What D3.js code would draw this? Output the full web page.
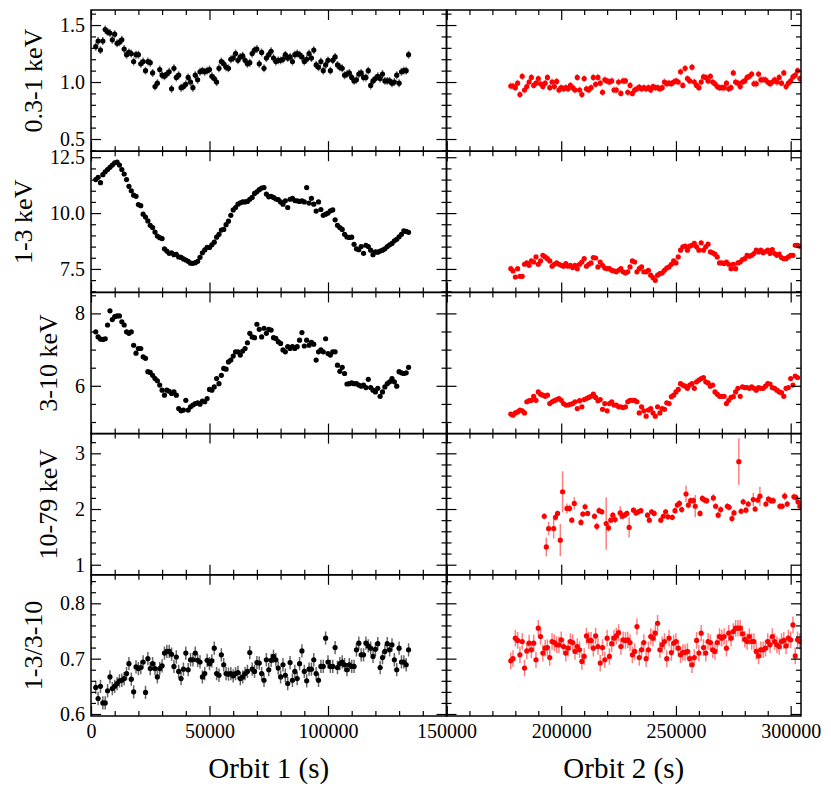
<!DOCTYPE html>
<html>
<head>
<meta charset="utf-8">
<script src="https://cdn.jsdelivr.net/npm/d3@7"></script>
<style>
  body { margin: 0; background: #fff; }
  svg text { font-family: "Liberation Serif", "DejaVu Serif", serif; fill: #000; }
</style>
</head>
<body>
<svg id="chart" width="831" height="796"></svg>
<script>
// Time binning of the XMM light curves (s)
const binWidth = 1000
const orbit1Start = 2000
const orbit2Start = 178000

const bandLabels = ['0.3-1 keV', '1-3 keV', '3-10 keV', '10-79 keV', '1-3/3-10']
const orbitLabels = ['Orbit 1 (s)', 'Orbit 2 (s)']
const orbitDomains = [[0, 150000], [150000, 304500]]
const xTicks = [[0, 50000, 100000, 150000], [150000, 200000, 250000, 300000]]

const yDomains = [[0.393, 1.632], [6.45, 12.77], [4.68, 8.58], [0.819, 3.354], [0.5964, 0.8515]]
const yMajor = [[0.5, 1.0, 1.5], [7.5, 10.0, 12.5], [6, 8], [1, 2, 3], [0.6, 0.7, 0.8]]
const yMinorStep = [0.1, 0.5, 0.5, 0.2, 0.02]
const yDecimals = [1, 1, 0, 0, 1]

// 0.3-1 keV
const soft1 = [
  1.31, 1.36, 1.28, 1.36, 1.46, 1.44, 1.43, 1.37, 1.42, 1.34,
  1.35, 1.37, 1.29, 1.24, 1.26, 1.25, 1.18, 1.24, 1.24, 1.16,
  1.18, 1.10, 1.18, 1.17, 1.08, 0.96, 0.99, 1.11, 1.06, 1.05,
  1.07, 1.09, 0.94, 1.12, 1.04, 1.06, 0.95, 0.96, 0.98, 1.04,
  1.00, 0.95, 1.06, 1.02, 1.09, 1.10, 1.09, 1.10, 1.11, 1.05,
  1.03, 1.00, 1.12, 1.18, 1.16, 1.13, 1.12, 1.20, 1.21, 1.25,
  1.19, 1.22, 1.23, 1.19, 1.16, 1.17, 1.25, 1.28, 1.29, 1.16,
  1.26, 1.12, 1.21, 1.24, 1.27, 1.21, 1.18, 1.19, 1.19, 1.20,
  1.24, 1.21, 1.22, 1.18, 1.24, 1.25, 1.24, 1.22, 1.18, 1.20,
  1.25, 1.21, 1.28, 1.15, 1.13, 1.18, 1.10, 1.15, 1.19, 1.10,
  1.19, 1.22, 1.15, 1.13, 1.12, 1.06, 1.07, 1.08, 1.04, 1.01,
  1.02, 1.07, 1.08, 1.04, 1.04, 1.10, 0.97, 1.01, 1.03, 1.05,
  1.03, 1.07, 1.01, 1.01, 1.01, 0.99, 1.00, 1.06, 0.99, 1.09,
  1.10, 1.10, 1.24
]
const soft2 = [
  0.965, 0.965, 0.95, 0.99, 0.89, 1.05, 0.93, 0.96, 1.00, 1.04,
  0.97, 0.99, 1.03, 0.985, 0.96, 0.99, 1.04, 0.95, 1.00, 0.96,
  1.005, 0.93, 0.95, 0.94, 0.95, 0.94, 0.97, 0.95, 0.93, 1.04,
  0.93, 0.89, 1.03, 0.94, 0.93, 0.95, 1.04, 0.98, 1.04, 0.99,
  0.91, 1.02, 1.01, 1.00, 1.01, 0.93, 0.93, 1.00, 0.90, 1.01,
  1.01, 0.91, 0.97, 0.90, 0.93, 0.94, 0.955, 0.94, 0.95, 0.94,
  0.95, 0.93, 0.96, 0.95, 0.95, 0.94, 0.95, 1.00, 0.985, 0.99,
  0.985, 1.00, 1.01, 1.00, 1.09, 0.97, 1.12, 1.03, 1.01, 1.13,
  1.00, 0.97, 0.95, 1.00, 1.045, 1.04, 1.01, 1.05, 1.00, 0.985,
  0.96, 0.95, 0.95, 0.95, 0.99, 0.94, 0.95, 1.08, 1.00, 0.99,
  0.96, 1.00, 1.01, 1.04, 1.05, 1.07, 0.985, 0.985, 1.07, 1.02,
  1.02, 1.02, 1.00, 0.985, 1.00, 1.02, 1.00, 1.04, 0.99, 1.08,
  0.96, 0.99, 1.01, 1.045, 1.06, 1.10, 1.03
]

// 1-3 keV
const medium1 = [
  11.50, 11.60, 11.36, 11.72, 11.85, 11.95, 12.05, 12.15, 12.25, 12.28,
  12.15, 11.95, 11.75, 11.50, 11.20, 11.00, 10.80, 10.75, 10.38, 10.33,
  9.95, 9.82, 9.65, 9.45, 9.35, 9.15, 8.97, 8.90, 8.86, 8.40,
  8.30, 8.20, 8.22, 8.14, 8.15, 8.04, 8.02, 7.95, 7.90, 7.84,
  7.76, 7.75, 7.78, 7.84, 8.02, 8.22, 8.35, 8.47, 8.46, 8.58,
  8.70, 8.92, 9.05, 9.24, 9.27, 9.48, 9.64, 9.90, 10.14, 10.25,
  10.40, 10.46, 10.50, 10.50, 10.52, 10.62, 10.70, 10.88, 10.95, 11.05,
  11.12, 11.14, 10.85, 10.73, 10.75, 10.70, 10.63, 10.60, 10.50, 10.40,
  10.55, 10.25, 10.62, 10.66, 10.56, 10.55, 10.52, 10.55, 10.50, 11.14,
  10.45, 10.66, 10.40, 10.09, 10.50, 10.16, 9.90, 9.95, 10.00, 10.10,
  10.14, 9.70, 9.45, 9.35, 9.27, 9.05, 8.93, 8.91, 8.92, 8.60,
  8.40, 8.36, 8.50, 8.20, 8.56, 8.50, 8.34, 8.14, 8.26, 8.25,
  8.30, 8.34, 8.40, 8.50, 8.58, 8.64, 8.76, 8.83, 8.94, 9.05,
  9.20, 9.18, 9.14
]
const medium2 = [
  7.51, 7.41, 7.14, 7.51, 7.17, 7.17, 7.71, 7.77, 7.66, 7.86,
  7.81, 8.04, 7.71, 7.86, 8.11, 8.04, 7.96, 7.86, 7.62, 7.71,
  7.77, 7.71, 7.66, 7.62, 7.74, 7.62, 7.66, 7.56, 7.66, 7.51,
  7.71, 7.81, 7.96, 7.62, 7.71, 7.77, 8.01, 7.99, 7.59, 7.81,
  7.66, 7.54, 7.51, 7.51, 7.44, 7.41, 7.37, 7.44, 7.51, 7.37,
  7.32, 7.37, 7.59, 7.86, 7.81, 7.37, 7.51, 7.59, 7.37, 7.37,
  7.44, 7.22, 7.11, 6.99, 7.22, 7.29, 7.32, 7.44, 7.54, 7.59,
  7.71, 7.86, 7.77, 8.04, 8.34, 8.49, 8.52, 8.34, 8.52, 8.56,
  8.64, 8.49, 8.34, 8.67, 8.34, 8.49, 8.61, 8.26, 8.22, 8.16,
  8.04, 7.77, 7.77, 7.74, 7.81, 7.71, 7.51, 7.71, 7.51, 7.77,
  7.81, 7.92, 7.96, 8.11, 8.07, 8.11, 8.19, 8.34, 8.26, 8.34,
  8.22, 8.28, 8.34, 8.19, 8.37, 8.19, 8.11, 8.16, 8.01, 7.96,
  7.96, 8.04, 8.11, 8.11, 8.56, 8.56, 8.52
]

// 3-10 keV
const hard1 = [
  7.49, 7.35, 7.29, 7.28, 7.30, 7.68, 8.07, 7.83, 7.91, 7.93,
  7.93, 7.77, 7.68, 7.49, 7.45, 7.49, 7.12, 6.90, 7.03, 7.03,
  6.80, 6.76, 6.39, 6.37, 6.29, 6.20, 6.14, 6.02, 5.88, 5.74,
  5.88, 5.85, 5.79, 5.83, 5.74, 5.37, 5.31, 5.33, 5.60, 5.33,
  5.42, 5.47, 5.51, 5.53, 5.49, 5.58, 5.56, 5.65, 5.90, 5.88,
  5.97, 6.20, 6.06, 6.29, 6.48, 6.46, 6.66, 6.71, 6.82, 6.94,
  6.94, 6.85, 6.96, 7.03, 7.19, 7.45, 7.35, 7.33, 7.70, 7.56,
  7.35, 7.59, 7.45, 7.56, 7.54, 7.33, 7.31, 7.22, 7.17, 6.99,
  6.94, 7.08, 7.03, 7.08, 7.03, 7.08, 7.26, 7.47, 7.10, 7.26,
  7.12, 7.20, 7.15, 6.71, 6.94, 6.99, 6.94, 7.30, 6.89, 6.85,
  6.94, 6.94, 6.57, 6.40, 6.51, 6.34, 6.05, 6.06, 6.08, 6.06,
  6.06, 6.02, 5.99, 6.02, 5.95, 6.18, 5.95, 5.88, 5.83, 5.93,
  5.71, 5.83, 5.97, 6.06, 6.11, 6.20, 6.11, 5.99, 6.39, 6.36,
  6.34, 6.36, 6.51
]
const hard2 = [
  5.22, 5.19, 5.25, 5.28, 5.33, 5.31, 5.25, 5.56, 5.59, 5.60,
  5.71, 5.60, 5.83, 5.77, 5.74, 5.71, 5.74, 5.51, 5.56, 5.59,
  5.62, 5.65, 5.60, 5.51, 5.47, 5.47, 5.49, 5.51, 5.56, 5.37,
  5.59, 5.42, 5.62, 5.65, 5.68, 5.71, 5.77, 5.68, 5.59, 5.62,
  5.35, 5.51, 5.31, 5.51, 5.56, 5.47, 5.47, 5.42, 5.42, 5.40,
  5.42, 5.56, 5.60, 5.60, 5.60, 5.56, 5.25, 5.42, 5.31, 5.16,
  5.33, 5.37, 5.25, 5.16, 5.42, 5.25, 5.37, 5.35, 5.53, 5.51,
  5.70, 5.74, 5.83, 5.90, 6.06, 6.02, 5.99, 5.93, 6.02, 6.06,
  5.93, 6.11, 6.16, 6.20, 6.23, 6.11, 6.08, 5.99, 6.02, 5.83,
  5.77, 5.71, 5.71, 5.71, 5.51, 5.60, 5.68, 5.70, 5.83, 5.93,
  5.71, 5.97, 5.95, 5.95, 5.93, 5.97, 5.93, 5.88, 5.95, 5.93,
  5.93, 5.99, 6.06, 6.05, 5.95, 5.93, 5.88, 5.83, 5.81, 5.71,
  5.93, 5.95, 6.20, 6.02, 6.27, 6.23
]

// 10-79 keV (NuSTAR, orbit 2 only, irregular times)
const nuTimes = [
  192600, 193500, 194500, 196700, 197500, 198400, 199600, 200600, 202500, 203600,
  204600, 205700, 208600, 209400, 210400, 211500, 214500, 215500, 216500, 217700,
  219600, 220600, 221600, 222500, 223500, 225700, 226700, 227600, 228600, 229600,
  231500, 232600, 233600, 234700, 237600, 238400, 239400, 240500, 243400, 244500,
  245500, 246500, 248400, 249600, 250600, 251500, 252500, 254400, 255400, 256400,
  257600, 258400, 260500, 261500, 262500, 263400, 266300, 267300, 268400, 269500,
  272400, 273200, 274400, 275300, 277400, 278400, 279300, 280500, 281500, 283700,
  284500, 285600, 286600, 289200, 290300, 291400, 292400, 295300, 296300, 297400,
  298500, 301400, 302200, 303200, 304000
]
const nuRate = [
  1.87, 1.32, 1.65, 1.65, 1.85, 1.92, 1.44, 2.31, 2.01, 2.01,
  1.80, 2.10, 1.76, 1.91, 2.04, 1.92, 1.87, 1.69, 1.97, 1.95,
  1.74, 1.66, 1.80, 1.89, 1.81, 1.93, 1.87, 1.89, 1.92, 1.67,
  1.98, 1.93, 1.95, 1.97, 1.89, 1.80, 1.95, 1.92, 1.80, 1.87,
  1.95, 1.86, 1.85, 1.97, 2.07, 2.10, 1.99, 2.27, 2.07, 2.15,
  2.15, 2.05, 1.92, 2.19, 2.16, 2.15, 2.20, 2.05, 1.89, 1.99,
  2.05, 2.03, 1.83, 1.93, 2.85, 1.96, 2.13, 1.98, 2.09, 2.17,
  2.00, 2.16, 2.23, 2.09, 2.18, 2.15, 2.15, 2.05, 2.05, 2.23,
  2.09, 2.22, 2.21, 2.13, 2.05
]
const nuErr = [
  0.06, 0.17, 0.12, 0.18, 0.06, 0.05, 0.29, 0.37, 0.09, 0.07,
  0.05, 0.11, 0.06, 0.05, 0.06, 0.05, 0.06, 0.07, 0.06, 0.05,
  0.47, 0.07, 0.05, 0.06, 0.06, 0.12, 0.06, 0.05, 0.05, 0.18,
  0.05, 0.05, 0.05, 0.05, 0.05, 0.05, 0.05, 0.05, 0.05, 0.05,
  0.05, 0.05, 0.05, 0.06, 0.06, 0.06, 0.06, 0.15, 0.06, 0.06,
  0.06, 0.20, 0.06, 0.06, 0.06, 0.06, 0.07, 0.06, 0.06, 0.06,
  0.06, 0.06, 0.07, 0.06, 0.42, 0.06, 0.06, 0.06, 0.06, 0.12,
  0.06, 0.06, 0.17, 0.06, 0.06, 0.06, 0.06, 0.06, 0.06, 0.07,
  0.06, 0.06, 0.06, 0.06, 0.06
]

// hardness ratio 1-3 / 3-10
const ratio1 = [
  0.648, 0.628, 0.650, 0.620, 0.620, 0.642, 0.667, 0.646, 0.650, 0.655,
  0.660, 0.661, 0.664, 0.673, 0.691, 0.663, 0.640, 0.685, 0.682, 0.684,
  0.694, 0.639, 0.700, 0.682, 0.691, 0.682, 0.667, 0.682, 0.687, 0.710,
  0.713, 0.713, 0.708, 0.686, 0.703, 0.677, 0.664, 0.681, 0.710, 0.680,
  0.698, 0.698, 0.710, 0.697, 0.694, 0.667, 0.673, 0.697, 0.691, 0.696,
  0.719, 0.673, 0.670, 0.707, 0.689, 0.673, 0.672, 0.673, 0.669, 0.673,
  0.675, 0.664, 0.667, 0.673, 0.677, 0.711, 0.681, 0.677, 0.693, 0.692,
  0.673, 0.661, 0.698, 0.680, 0.697, 0.704, 0.698, 0.683, 0.667, 0.689,
  0.670, 0.655, 0.693, 0.661, 0.677, 0.664, 0.691, 0.714, 0.677, 0.660,
  0.681, 0.681, 0.698, 0.673, 0.661, 0.686, 0.686, 0.737, 0.694, 0.686,
  0.686, 0.720, 0.684, 0.691, 0.694, 0.689, 0.680, 0.689, 0.686, 0.686,
  0.716, 0.728, 0.707, 0.707, 0.728, 0.723, 0.719, 0.704, 0.717, 0.727,
  0.684, 0.702, 0.713, 0.727, 0.716, 0.725, 0.698, 0.680, 0.719, 0.694,
  0.694, 0.689, 0.716
]
const ratio2 = [
  0.696, 0.700, 0.737, 0.733, 0.707, 0.731, 0.683, 0.714, 0.728, 0.716,
  0.728, 0.698, 0.755, 0.740, 0.710, 0.719, 0.720, 0.702, 0.731, 0.729,
  0.725, 0.725, 0.734, 0.722, 0.710, 0.719, 0.731, 0.729, 0.713, 0.722,
  0.716, 0.695, 0.704, 0.741, 0.733, 0.733, 0.719, 0.741, 0.722, 0.692,
  0.720, 0.698, 0.737, 0.704, 0.727, 0.737, 0.741, 0.747, 0.722, 0.734,
  0.733, 0.734, 0.729, 0.707, 0.713, 0.758, 0.702, 0.716, 0.729, 0.700,
  0.716, 0.740, 0.737, 0.746, 0.764, 0.716, 0.725, 0.731, 0.700, 0.737,
  0.711, 0.728, 0.731, 0.719, 0.707, 0.711, 0.711, 0.713, 0.700, 0.689,
  0.702, 0.733, 0.710, 0.746, 0.720, 0.710, 0.731, 0.729, 0.716, 0.713,
  0.729, 0.740, 0.737, 0.740, 0.719, 0.746, 0.737, 0.749, 0.755, 0.755,
  0.755, 0.745, 0.735, 0.731, 0.740, 0.731, 0.731, 0.713, 0.705, 0.716,
  0.716, 0.719, 0.731, 0.725, 0.740, 0.731, 0.725, 0.722, 0.731, 0.733,
  0.723, 0.737, 0.734, 0.761, 0.705, 0.734, 0.731
]

// typical 1-sigma errors per band [orbit 1, orbit 2]
const softErr = [0.035, 0.03]
const mediumErr = [0.04, 0.04]
const hardErr = [0.05, 0.05]
const ratioErr = [0.012, 0.015]

const binned = (values, start, err) =>
  values.map((v, i) => ({ t: start + i * binWidth, v, e: err }))

const panels = [
  [binned(soft1, orbit1Start, softErr[0]), binned(soft2, orbit2Start, softErr[1])],
  [binned(medium1, orbit1Start, mediumErr[0]), binned(medium2, orbit2Start, mediumErr[1])],
  [binned(hard1, orbit1Start, hardErr[0]), binned(hard2, orbit2Start, hardErr[1])],
  [[], nuTimes.map((t, i) => ({ t, v: nuRate[i], e: nuErr[i] }))],
  [binned(ratio1, orbit1Start, ratioErr[0]), binned(ratio2, orbit2Start, ratioErr[1])]
]

const markColor = ['#000', '#ff0000']
const errColor = ['rgba(0,0,0,0.6)', 'rgba(255,0,0,0.5)']

// layout
const colX = [91, 446.5, 801]
const rowTop = 10
const rowH = 141.2
const majorLen = 10
const minorLen = 5

const svg = d3.select('#chart')
const defs = svg.append('defs')

function styleAxis(g) {
  g.select('.domain').remove()
  g.selectAll('.tick line').attr('stroke', '#000').attr('stroke-width', 1.2)
  g.selectAll('.tick text').style('font-size', '20px')
}

bandLabels.forEach((label, r) => {
  const top = rowTop + r * rowH
  const bottom = top + rowH
  const y = d3.scaleLinear().domain(yDomains[r]).range([bottom, top])
  const fmt = d3.format('.' + yDecimals[r] + 'f')
  const [y0, y1] = yDomains[r]
  const yMinor = d3.range(Math.ceil(y0 / yMinorStep[r]), Math.floor(y1 / yMinorStep[r]) + 1)
    .map(k => +(k * yMinorStep[r]).toFixed(4))
    .filter(v => !yMajor[r].some(m => Math.abs(m - v) < 1e-6))

  ;[0, 1].forEach(c => {
    const x = d3.scaleLinear().domain(orbitDomains[c]).range([colX[c], colX[c + 1]])
    const [x0, x1] = orbitDomains[c]
    const xMinor = d3.range(Math.ceil(x0 / 10000) * 10000, x1 + 1, 10000)
      .filter(v => v % 50000 !== 0)

    const clipId = 'clip-' + r + '-' + c
    defs.append('clipPath').attr('id', clipId)
      .append('rect')
      .attr('x', colX[c]).attr('y', top)
      .attr('width', colX[c + 1] - colX[c]).attr('height', rowH)

    const marks = svg.append('g').attr('clip-path', 'url(#' + clipId + ')')
    const data = panels[r][c]

    marks.selectAll('line')
      .data(data)
      .join('line')
      .attr('x1', d => x(d.t))
      .attr('x2', d => x(d.t))
      .attr('y1', d => y(d.v - d.e))
      .attr('y2', d => y(d.v + d.e))
      .attr('stroke', errColor[c])
      .attr('stroke-width', 1.5)

    marks.selectAll('circle')
      .data(data)
      .join('circle')
      .attr('cx', d => x(d.t))
      .attr('cy', d => y(d.v))
      .attr('r', 2.6)
      .attr('fill', markColor[c])

    // x axes, bottom and top, ticks pointing inwards
    const xFmt = t => (r === 4 && !(c === 1 && t === 150000)) ? d3.format('d')(t) : ''
    svg.append('g')
      .attr('transform', 'translate(0,' + bottom + ')')
      .call(d3.axisBottom(x).tickValues(xTicks[c]).tickSize(-majorLen).tickPadding(7.5).tickFormat(xFmt))
      .call(styleAxis)
    svg.append('g')
      .attr('transform', 'translate(0,' + bottom + ')')
      .call(d3.axisBottom(x).tickValues(xMinor).tickSize(-minorLen).tickFormat(''))
      .call(styleAxis)
    svg.append('g')
      .attr('transform', 'translate(0,' + top + ')')
      .call(d3.axisTop(x).tickValues(xTicks[c]).tickSize(-majorLen).tickFormat(''))
      .call(styleAxis)
    svg.append('g')
      .attr('transform', 'translate(0,' + top + ')')
      .call(d3.axisTop(x).tickValues(xMinor).tickSize(-minorLen).tickFormat(''))
      .call(styleAxis)

    // y axes, left and right
    const leftAxis = svg.append('g')
      .attr('transform', 'translate(' + colX[c] + ',0)')
      .call(d3.axisLeft(y).tickValues(yMajor[r]).tickSize(-majorLen).tickPadding(6).tickFormat(c === 0 ? fmt : ''))
      .call(styleAxis)
    svg.append('g')
      .attr('transform', 'translate(' + colX[c] + ',0)')
      .call(d3.axisLeft(y).tickValues(yMinor).tickSize(-minorLen).tickFormat(''))
      .call(styleAxis)
    svg.append('g')
      .attr('transform', 'translate(' + colX[c + 1] + ',0)')
      .call(d3.axisRight(y).tickValues(yMajor[r]).tickSize(-majorLen).tickFormat(''))
      .call(styleAxis)
    svg.append('g')
      .attr('transform', 'translate(' + colX[c + 1] + ',0)')
      .call(d3.axisRight(y).tickValues(yMinor).tickSize(-minorLen).tickFormat(''))
      .call(styleAxis)

    svg.append('rect')
      .attr('x', colX[c]).attr('y', top)
      .attr('width', colX[c + 1] - colX[c]).attr('height', rowH)
      .attr('fill', 'none')
      .attr('stroke', '#000')
      .attr('stroke-width', 1.5)

    if (c === 0) {
      // y label sits left of the widest tick label
      let minX = colX[0]
      leftAxis.selectAll('.tick text').each(function () {
        const b = this.getBBox()
        minX = Math.min(minX, colX[0] + b.x)
      })
      svg.append('text')
        .attr('transform', 'translate(' + (minX - 27) + ',' + (top + rowH / 2) + ') rotate(-90)')
        .attr('text-anchor', 'middle')
        .attr('dominant-baseline', 'central')
        .style('font-size', '26px')
        .text(label)
    }
  })
})

orbitLabels.forEach((label, c) => {
  svg.append('text')
    .attr('x', (colX[c] + colX[c + 1]) / 2)
    .attr('y', 778)
    .attr('text-anchor', 'middle')
    .style('font-size', '29px')
    .text(label)
})
</script>
</body>
</html>
